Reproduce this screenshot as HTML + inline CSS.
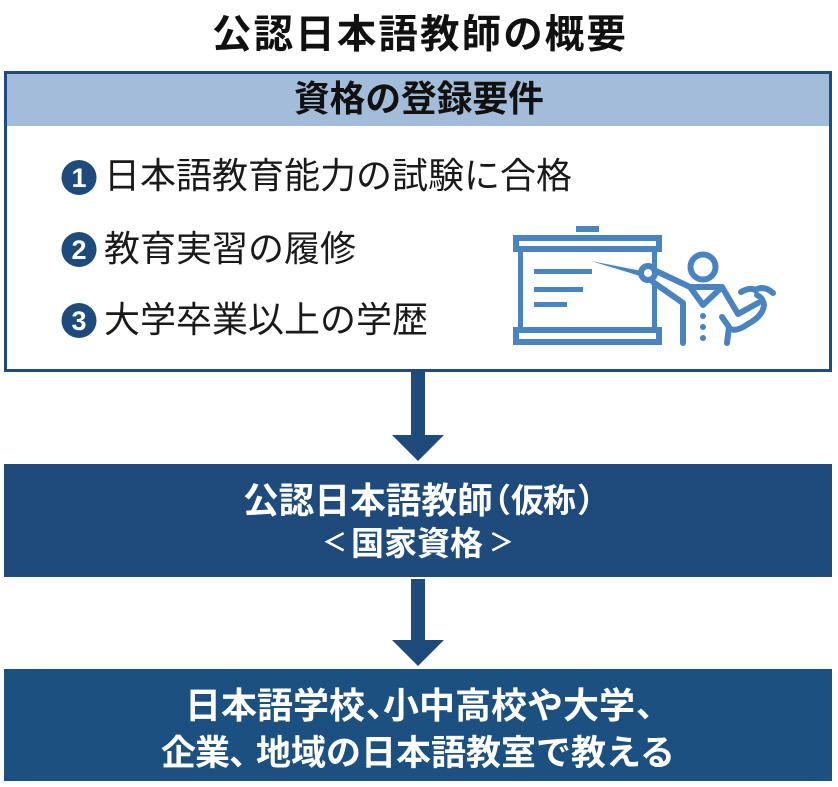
<!DOCTYPE html>
<html lang="ja"><head><meta charset="utf-8">
<style>
html,body{margin:0;padding:0;background:#fff}
#p{position:relative;width:838px;height:787px;overflow:hidden;background:#fff;font-family:"Liberation Sans","Noto Sans CJK JP",sans-serif}
.t{position:absolute;white-space:nowrap;line-height:1;color:#1a1a1a}
.w{color:#fff;font-weight:700}
.b{position:absolute;left:4px;width:828px}
</style></head><body><div id="p">
<div class="t" style="left:212px;top:16px;font-size:39.5px;letter-spacing:2.1px;font-weight:700;color:#111">公認日本語教師の概要</div>

<div class="b" style="top:71px;height:301px;box-sizing:border-box;border:3px solid #1f4a7c;background:#fff"></div>
<div class="b" style="top:74px;left:7px;width:822px;height:52px;background:#a3bcd9"></div>
<div class="t" style="left:294px;top:82px;font-size:35.7px;font-weight:700;color:#111">資格の登録要件</div>

<div class="t" style="left:104px;top:158px;font-size:36px">日本語教育能力の試験に合格</div>
<div class="t" style="left:104px;top:231px;font-size:36px">教育実習の履修</div>
<div class="t" style="left:104px;top:302px;font-size:36px">大学卒業以上の学歴</div>

<svg style="position:absolute;left:0;top:0" width="838" height="787" viewBox="0 0 838 787">
<g font-family="'Liberation Sans',sans-serif" font-weight="700" font-size="27" text-anchor="middle" fill="#fff">
<circle cx="79" cy="177.5" r="17.5" fill="#1f4a7c"/><text x="79" y="187">1</text>
<circle cx="79" cy="249.5" r="17.5" fill="#1f4a7c"/><text x="79" y="259">2</text>
<circle cx="79" cy="320.5" r="17.5" fill="#1f4a7c"/><text x="79" y="330">3</text>
</g>
<g fill="#4a84c0">
<rect x="576" y="226" width="23" height="6"/>
<rect x="513" y="235" width="149" height="6"/>
<rect x="513" y="246" width="149" height="6"/>
<rect x="513" y="235" width="6" height="17"/><rect x="656" y="235" width="6" height="17"/>
<rect x="518" y="250" width="5" height="78"/>
<rect x="652" y="250" width="5" height="26"/><rect x="652" y="284" width="5" height="44"/>
<rect x="513" y="327" width="149" height="6"/>
<rect x="513" y="339" width="149" height="6"/>
<rect x="513" y="327" width="6" height="18"/><rect x="656" y="327" width="6" height="18"/>
<rect x="534" y="269" width="58" height="5"/>
<rect x="534" y="287" width="49" height="5"/>
<rect x="534" y="302" width="33" height="5"/>
<polygon points="591,261 642,271 640,276"/>
<circle cx="703" cy="316" r="3"/><circle cx="703" cy="327" r="3"/><circle cx="703" cy="338" r="3"/>
</g>
<g fill="none" stroke="#4a84c0" stroke-width="6" stroke-linecap="round" stroke-linejoin="round">
<circle cx="703" cy="267" r="12.5"/>
<circle cx="648" cy="273" r="7"/>
<path d="M656,271 L690,287 L722,287 L738,314 L758,303"/>
<path d="M690,287 L703,305 L722,287"/>
<path d="M653,282 L683,303 L683,343"/>
<path d="M722,317 L729,327 L727,343"/>
<path d="M730,329 Q737,332 748,324 Q763,316 764,305 Q763,298 757,295"/>
<path d="M741,292 Q750,287 755,290 Q764,285 773,293"/>
</g>
<g fill="#1f4a7c">
<rect x="411" y="370" width="14" height="66"/>
<polygon points="392,435 444,435 418,461"/>
<rect x="411" y="579" width="14" height="62"/>
<polygon points="392,640 444,640 418,666"/>
</g>
</svg>

<div class="b" style="top:464px;height:113px;background:#1f4a7c"></div>
<div class="b" style="top:669px;height:112px;background:#1c5080"></div>

<div class="t w" style="left:243px;top:484px;font-size:35.7px">公認日本語教師</div>
<div class="t w" style="left:478px;top:484px;font-size:33px">（</div>
<div class="t w" style="left:511px;top:484px;font-size:33px;letter-spacing:-1px">仮称</div>
<div class="t w" style="left:577px;top:484px;font-size:33px">）</div>

<div class="t w" style="left:322px;top:531px;font-size:25px">＜</div>
<div class="t w" style="left:351px;top:527px;font-size:33px">国家資格</div>
<div class="t w" style="left:489px;top:531px;font-size:25px">＞</div>

<div class="t w" style="left:185px;top:688px;font-size:36px">日本語学校</div>
<div class="t w" style="left:366px;top:688px;font-size:35px">、</div>
<div class="t w" style="left:383px;top:688px;font-size:36px">小中高校や大学</div>
<div class="t w" style="left:636px;top:688px;font-size:35px">、</div>

<div class="t w" style="left:161px;top:736px;font-size:35px;letter-spacing:-1px">企業</div>
<div class="t w" style="left:229px;top:736px;font-size:35px">、</div>
<div class="t w" style="left:256px;top:736px;font-size:35px">地域の日本語教室で教える</div>
</div></body></html>
